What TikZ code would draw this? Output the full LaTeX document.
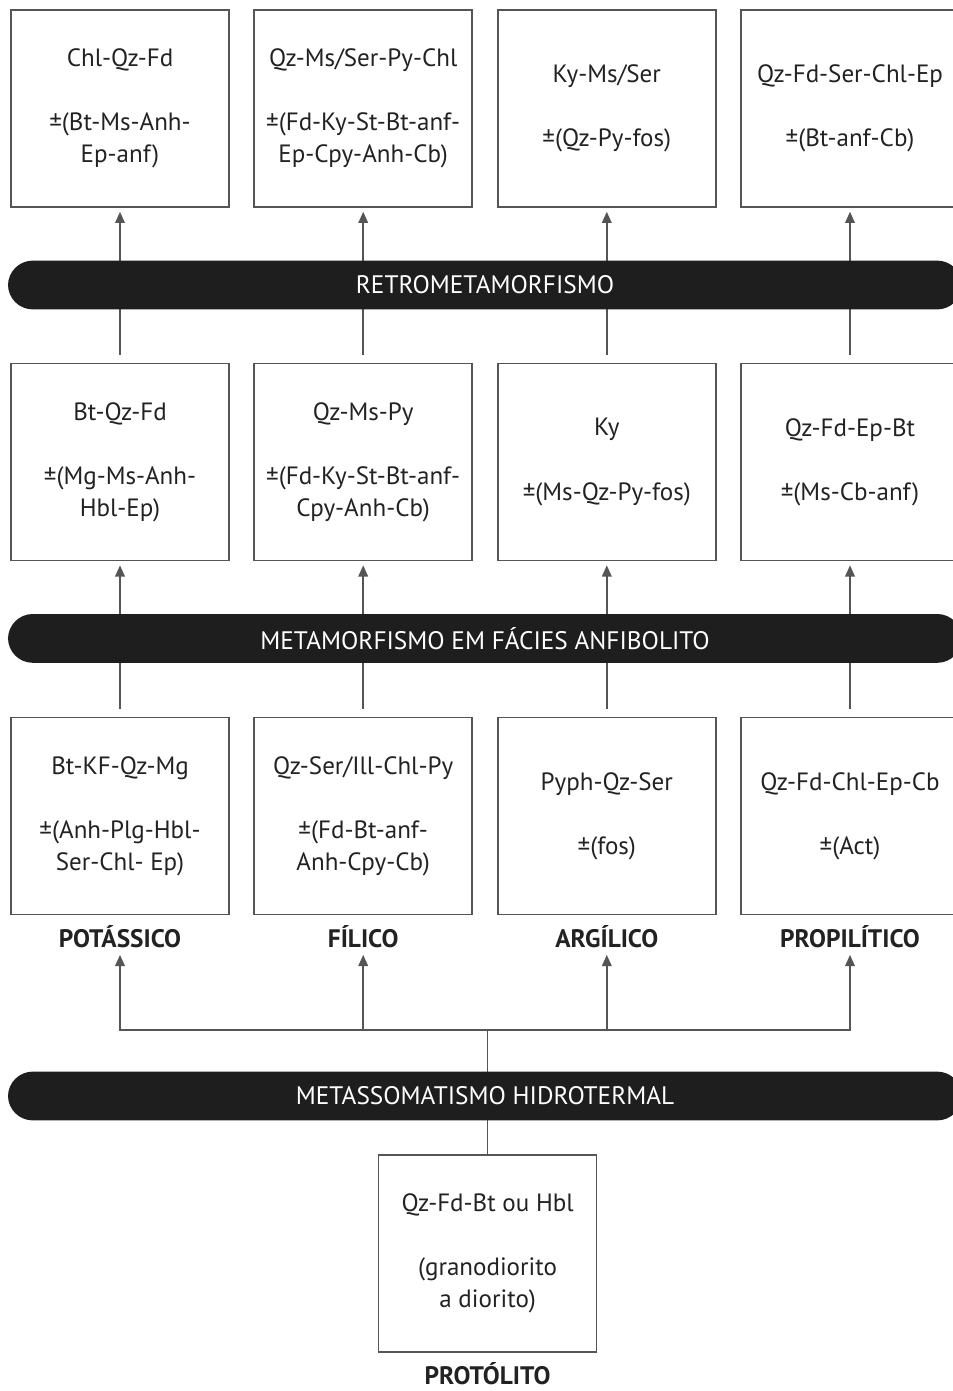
\documentclass[tikz,border=0pt]{standalone}
\usepackage{fontspec}
\setmainfont{PT Sans}
\usetikzlibrary{arrows.meta}
\definecolor{barblack}{HTML}{1E1E1E}
\definecolor{linegray}{HTML}{555555}
\definecolor{txtgray}{HTML}{222222}

\begin{document}
\begin{tikzpicture}[
  mineral/.style={draw=linegray, line width=1.2pt, minimum width=5.45cm, minimum height=4.925cm,
    align=center, text=txtgray, font=\fontsize{17.8}{22.8}\selectfont},
  phase/.style={fill=barblack, rounded corners=0.62cm, minimum width=23.85cm, minimum height=1.22cm,
    text=white, font=\fontsize{18}{20}\selectfont},
  zone/.style={anchor=base, inner sep=1pt, text=txtgray, font=\bfseries\fontsize{18}{20}\selectfont},
  up/.style={draw=linegray, line width=1.2pt, -{Triangle[length=2.8mm,width=2.4mm]}},
  link/.style={draw=linegray, line width=1.2pt}
]
  \useasboundingbox (0,0) rectangle (23.8,-34.775);

  % Top row: retrometamorphic assemblages
  \node[mineral] (t1) at (3.0,-2.71)   {Chl-Qz-Fd\\[22.8pt]±(Bt-Ms-Anh-\\Ep-anf)};
  \node[mineral] (t2) at (9.08,-2.71)  {Qz-Ms/Ser-Py-Chl\\[22.8pt]±(Fd-Ky-St-Bt-anf-\\Ep-Cpy-Anh-Cb)};
  \node[mineral] (t3) at (15.17,-2.71) {Ky-Ms/Ser\\[22.8pt]±(Qz-Py-fos)};
  \node[mineral] (t4) at (21.25,-2.71) {Qz-Fd-Ser-Chl-Ep\\[22.8pt]±(Bt-anf-Cb)};

  % Middle row: amphibolite facies
  \node[mineral] (m1) at (3.0,-11.55)   {Bt-Qz-Fd\\[22.8pt]±(Mg-Ms-Anh-\\Hbl-Ep)};
  \node[mineral] (m2) at (9.08,-11.55)  {Qz-Ms-Py\\[22.8pt]±(Fd-Ky-St-Bt-anf-\\Cpy-Anh-Cb)};
  \node[mineral] (m3) at (15.17,-11.55) {Ky\\[22.8pt]±(Ms-Qz-Py-fos)};
  \node[mineral] (m4) at (21.25,-11.55) {Qz-Fd-Ep-Bt\\[22.8pt]±(Ms-Cb-anf)};

  % Bottom row: hydrothermal alteration zones
  \node[mineral] (b1) at (3.0,-20.4)   {Bt-KF-Qz-Mg\\[22.8pt]±(Anh-Plg-Hbl-\\Ser-Chl- Ep)};
  \node[mineral] (b2) at (9.08,-20.4)  {Qz-Ser/Ill-Chl-Py\\[22.8pt]±(Fd-Bt-anf-\\Anh-Cpy-Cb)};
  \node[mineral] (b3) at (15.17,-20.4) {Pyph-Qz-Ser\\[22.8pt]±(fos)};
  \node[mineral] (b4) at (21.25,-20.4) {Qz-Fd-Chl-Ep-Cb\\[22.8pt]±(Act)};

  \node[zone] (z1) at (3.0,-23.68)   {POTÁSSICO};
  \node[zone] (z2) at (9.08,-23.68)  {FÍLICO};
  \node[zone] (z3) at (15.17,-23.68) {ARGÍLICO};
  \node[zone] (z4) at (21.25,-23.68) {PROPILÍTICO};

  % Protolith
  \node[mineral] (p) at (12.19,-31.34) {Qz-Fd-Bt ou Hbl\\[22.8pt](granodiorito\\a diorito)};
  \node[zone] (pz) at (12.19,-34.6) {PROTÓLITO};

  % Arrows
  \foreach \i in {1,...,4} {
    \draw[up, shorten <=0.2cm, shorten >=0.1cm] (m\i.north) -- (t\i.south);
    \draw[up, shorten <=0.2cm, shorten >=0.1cm] (b\i.north) -- (m\i.south);
  }
  \coordinate (fork) at (12.19,-25.75);
  \foreach \i in {1,...,4} \draw[up, shorten >=4pt] (fork) -| (z\i.south);
  \draw[link] (fork) -- (p.north);

  % Process bars (on top of the lines)
  \node[phase] (retro) at (12.125,-7.125) {RETROMETAMORFISMO};
  \node[phase] (anfib) at (12.125,-15.96) {METAMORFISMO EM FÁCIES ANFIBOLITO};
  \node[phase] (hidro) at (12.125,-27.4)  {METASSOMATISMO HIDROTERMAL};
\end{tikzpicture}
\end{document}
